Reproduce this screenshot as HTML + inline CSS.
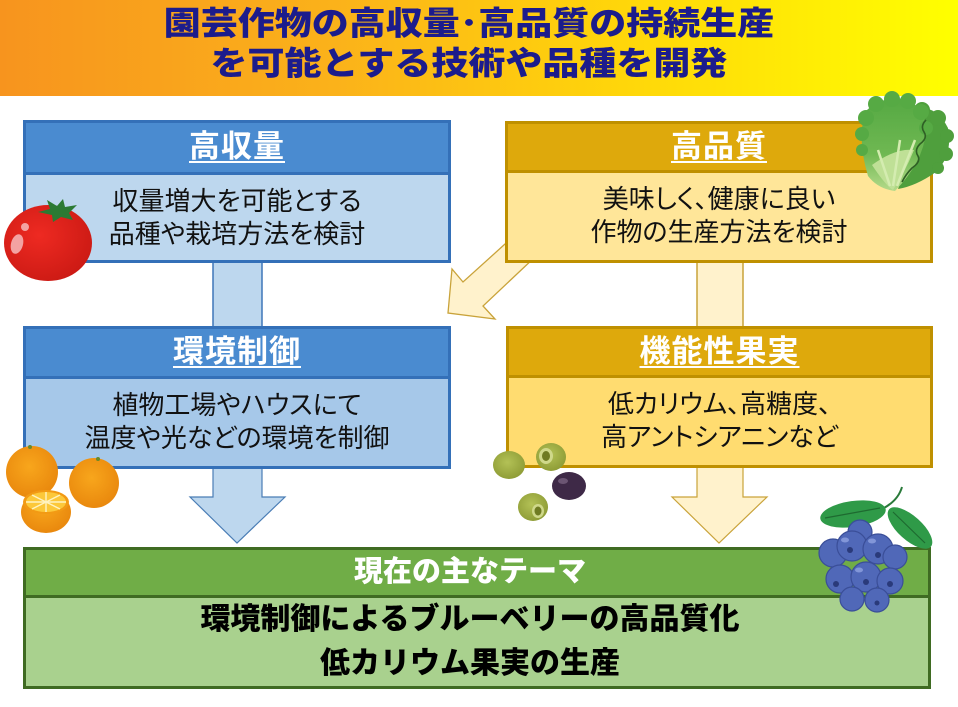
<!DOCTYPE html>
<html><head><meta charset="utf-8">
<style>
html,body{margin:0;padding:0;}
body{width:958px;height:707px;position:relative;overflow:hidden;background:#fff;font-family:"Liberation Sans","Noto Sans CJK JP",sans-serif;}
.title{position:absolute;left:0;top:0;width:958px;height:96px;background:linear-gradient(90deg,#f7941e 0%,#fbb21a 35%,#ffd60a 65%,#ffff00 100%);}
.tl{position:absolute;left:0;width:938px;text-align:center;color:#1c1c8c;font-weight:900;font-size:37px;line-height:40px;white-space:nowrap;}
.tl span{display:inline-block;transform:scaleY(0.88);}
.box{position:absolute;box-sizing:border-box;border:3px solid;}
.hd{box-sizing:border-box;border-bottom:3px solid;text-align:center;color:#fff;font-weight:700;font-size:31px;letter-spacing:1px;}
.hd u{text-decoration:underline;text-decoration-thickness:2px;text-underline-offset:4px;}
.bd{text-align:center;color:#111;font-size:26px;line-height:33px;font-feature-settings:"palt";}
svg{position:absolute;left:0;top:0;}
</style></head><body>
<div class="title">
  <div class="tl" style="top:4px"><span>園芸作物の高収量･高品質の持続生産</span></div>
  <div class="tl" style="top:44px"><span>を可能とする技術や品種を開発</span></div>
</div>

<!-- connectors behind boxes -->
<svg width="958" height="707" style="z-index:1">
  <rect x="213" y="258" width="49" height="72" fill="#bdd7ee" stroke="#3f77b8" stroke-width="1.5"/>
  <rect x="697" y="258" width="46" height="72" fill="#fff2cc" stroke="#c9a33a" stroke-width="1.5"/>
  <polygon points="515,235 463,282 452,269 448,313 495,319 483,306 535,257" fill="#fff2cc" stroke="#c9a33a" stroke-width="1.3"/>
  <polygon points="213,464 262,464 262,497 285,497 237,543 190,497 213,497" fill="#bdd7ee" stroke="#4a7db5" stroke-width="1.2"/>
  <polygon points="697,464 743,464 743,497 767,497 719,543 672,497 697,497" fill="#fff2cc" stroke="#c9a33a" stroke-width="1.2"/>
</svg>

<!-- boxes -->
<div class="box" style="left:23px;top:120px;width:428px;height:143px;border-color:#3470b8;z-index:2;">
  <div class="hd" style="height:52px;line-height:47px;background:#4a8bd0;border-color:#3470b8;"><u>高収量</u></div>
  <div class="bd" style="height:85px;background:#bdd7ee;padding-top:10px;box-sizing:border-box;">収量増大を可能とする<br>品種や栽培方法を検討</div>
</div>
<div class="box" style="left:23px;top:326px;width:428px;height:143px;border-color:#3470b8;z-index:2;">
  <div class="hd" style="height:50px;line-height:46px;background:#4a8bd0;border-color:#3470b8;"><u>環境制御 </u></div>
  <div class="bd" style="height:87px;background:#a6c8e9;padding-top:10px;box-sizing:border-box;">植物工場やハウスにて<br>温度や光などの環境を制御</div>
</div>
<div class="box" style="left:505px;top:121px;width:428px;height:142px;border-color:#bf9000;z-index:2;">
  <div class="hd" style="height:49px;line-height:46px;background:#dea90c;border-color:#bf9000;"><u>高品質</u></div>
  <div class="bd" style="height:87px;background:#ffe699;padding-top:10px;box-sizing:border-box;">美味しく、健康に良い<br>作物の生産方法を検討</div>
</div>
<div class="box" style="left:506px;top:326px;width:427px;height:142px;border-color:#bf9000;z-index:2;">
  <div class="hd" style="height:49px;line-height:45px;background:#dea90c;border-color:#bf9000;"><u>機能性果実 </u></div>
  <div class="bd" style="height:87px;background:#ffdc70;padding-top:10px;box-sizing:border-box;">低カリウム、高糖度、<br>高アントシアニンなど</div>
</div>
<div class="box" style="left:23px;top:547px;width:908px;height:142px;border-color:#3f6b22;z-index:2;">
  <div class="hd" style="height:48px;line-height:44px;background:#70ad47;border-color:#3f6b22;font-size:29px;font-weight:900;letter-spacing:0;padding-right:14px;">現在の主なテーマ</div>
  <div style="height:88px;background:#a9d18e;text-align:center;color:#000;font-weight:900;font-size:30px;line-height:44px;padding-right:14px;box-sizing:border-box;padding-top:0px;">環境制御によるブルーベリーの高品質化<br>低カリウム果実の生産</div>
</div>

<!-- illustrations -->
<svg width="958" height="707" style="z-index:3">
  <defs>
    <radialGradient id="tom" cx="40%" cy="40%" r="65%">
      <stop offset="0" stop-color="#ee2a22"/><stop offset="1" stop-color="#cc1a14"/>
    </radialGradient>
    <radialGradient id="org" cx="45%" cy="40%" r="65%">
      <stop offset="0" stop-color="#f8a61c"/><stop offset="1" stop-color="#e8860c"/>
    </radialGradient>
    <radialGradient id="olv" cx="45%" cy="40%" r="65%">
      <stop offset="0" stop-color="#b3c156"/><stop offset="1" stop-color="#8c9a34"/>
    </radialGradient>
    <linearGradient id="let" x1="0" y1="0" x2="0" y2="1">
      <stop offset="0" stop-color="#55a943"/><stop offset="0.6" stop-color="#6fb852"/><stop offset="1" stop-color="#b4da8a"/>
    </linearGradient>
  </defs>
  <!-- tomato -->
  <ellipse cx="48" cy="243" rx="44" ry="38" fill="url(#tom)"/>
  <ellipse cx="17" cy="244" rx="6" ry="10" fill="#f3a2a2" transform="rotate(15 17 244)"/>
  <circle cx="25" cy="227" r="4" fill="#f3a2a2"/>
  <polygon points="38,212 50,209 47,200 57,206 63,199 65,207 77,205 69,213 73,220 61,217 53,222 52,215" fill="#2b7a33"/>
  <!-- lettuce -->
  <path d="M912,108 Q936,104 948,128 Q953,155 936,172 Q916,186 898,189 Q914,150 912,108 Z" fill="#4f9f3d"/>
  <g fill="#4f9f3d">
    <circle cx="922" cy="110" r="8"/><circle cx="938" cy="118" r="8"/><circle cx="947" cy="136" r="7"/>
    <circle cx="946" cy="154" r="7"/><circle cx="938" cy="168" r="6"/>
  </g>
  <path d="M868,176 Q857,140 865,112 Q880,96 904,99 Q926,106 926,132 Q923,162 895,191 Q878,189 868,176 Z" fill="url(#let)"/>
  <g fill="#56aa44">
    <circle cx="866" cy="118" r="8"/><circle cx="876" cy="104" r="8"/><circle cx="892" cy="99" r="8"/>
    <circle cx="908" cy="101" r="8"/><circle cx="921" cy="112" r="8"/><circle cx="862" cy="134" r="7"/>
    <circle cx="926" cy="128" r="7"/><circle cx="862" cy="150" r="6"/>
  </g>
  <path d="M872,165 Q886,186 893,190 Q905,172 914,150 Q895,148 872,165 Z" fill="#bfe096"/>
  <path d="M878,150 L890,186 M900,140 L893,186 M915,140 L897,186" stroke="#d4ecb0" stroke-width="2.5" fill="none"/>
  <path d="M926,120 q-6,6 -2,12 q4,6 -4,12 q-6,6 -2,12 q3,6 -6,12 q-6,6 -10,14" stroke="#2f5f25" stroke-width="1.6" fill="none"/>
  <!-- oranges -->
  <circle cx="32" cy="472" r="26" fill="url(#org)"/>
  <circle cx="30" cy="447" r="2" fill="#6a8a2a"/>
  <circle cx="94" cy="483" r="25" fill="url(#org)"/>
  <circle cx="98" cy="459" r="2" fill="#6a8a2a"/>
  <ellipse cx="46" cy="512" rx="25" ry="21" fill="url(#org)"/>
  <ellipse cx="46" cy="502" rx="23" ry="12" fill="#f29a14"/>
  <ellipse cx="46" cy="502" rx="20" ry="10" fill="#fcc83a"/>
  <g stroke="#fff3c0" stroke-width="1.4">
    <line x1="26" y1="502" x2="66" y2="502"/><line x1="46" y1="492" x2="46" y2="512"/>
    <line x1="32" y1="495" x2="60" y2="509"/><line x1="60" y1="495" x2="32" y2="509"/>
  </g>
  <!-- olives -->
  <ellipse cx="509" cy="465" rx="16" ry="14" fill="url(#olv)"/>
  <ellipse cx="551" cy="457" rx="15" ry="14" fill="url(#olv)"/>
  <ellipse cx="546" cy="456" rx="7" ry="8" fill="#cfd88a"/>
  <ellipse cx="546" cy="456" rx="4" ry="5" fill="#6f7b22"/>
  <ellipse cx="569" cy="486" rx="17" ry="14" fill="#3e2947"/>
  <ellipse cx="563" cy="481" rx="5" ry="3" fill="#6b5573"/>
  <ellipse cx="533" cy="507" rx="15" ry="14" fill="url(#olv)"/>
  <ellipse cx="538" cy="511" rx="6" ry="7" fill="#cfd88a"/>
  <ellipse cx="538" cy="511" rx="3.5" ry="4.5" fill="#6f7b22"/>
  <!-- blueberries -->
  <path d="M902,487 q-4,14 -20,22" stroke="#2a7a3a" stroke-width="2" fill="none"/>
  <ellipse cx="853" cy="514" rx="33" ry="13" fill="#2f9a48" transform="rotate(-8 853 514)"/>
  <ellipse cx="910" cy="528" rx="28" ry="12" fill="#2f9a48" transform="rotate(42 910 528)"/>
  <path d="M825,518 L880,508 M893,512 L925,543" stroke="#1e6a30" stroke-width="1.2"/>
  <g fill="#5068b8" stroke="#3a4e98" stroke-width="1.2">
    <circle cx="860" cy="532" r="12"/>
    <circle cx="833" cy="553" r="14"/><circle cx="852" cy="546" r="15"/><circle cx="878" cy="549" r="15"/>
    <circle cx="895" cy="557" r="12"/><circle cx="840" cy="579" r="14"/><circle cx="866" cy="577" r="15"/>
    <circle cx="890" cy="581" r="13"/><circle cx="852" cy="599" r="12"/><circle cx="877" cy="600" r="12"/>
  </g>
  <g fill="#2a3a7a">
    <circle cx="850" cy="550" r="3"/><circle cx="878" cy="555" r="3"/><circle cx="866" cy="582" r="3"/>
    <circle cx="890" cy="584" r="3"/><circle cx="836" cy="584" r="3"/><circle cx="877" cy="603" r="2.5"/>
  </g>
  <g fill="#8fa2e0" opacity="0.8">
    <ellipse cx="845" cy="540" rx="4" ry="2.5"/><ellipse cx="872" cy="541" rx="4" ry="2.5"/><ellipse cx="859" cy="570" rx="4" ry="2.5"/>
  </g>
</svg>
</body></html>
